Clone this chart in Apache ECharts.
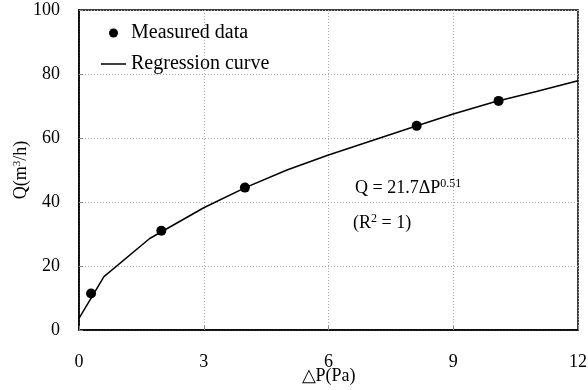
<!DOCTYPE html>
<html>
<head>
<meta charset="utf-8">
<script src="https://cdn.jsdelivr.net/npm/echarts@6/dist/echarts.min.js"></script>
<style>
  html, body { margin: 0; padding: 0; background: #fff; }
  #main { width: 588px; height: 390px; }
</style>
</head>
<body>
<div id="main"></div>
<script>
// 实测数据
var measuredX = [0.29, 1.98, 3.99, 8.12, 10.09];
var measuredQ = [11.4, 31.0, 44.5, 63.8, 71.6];
// 回归曲线
var curveX = [0, 0.6, 1.7, 3, 4, 5, 6, 7, 8, 9, 10, 11, 12];
var curveQ = [3.6, 16.7, 28.6, 38.2, 44.5, 50.0, 54.7, 59.0, 63.3, 67.5, 71.3, 74.5, 77.9];
var xTicks = [0, 3, 6, 9, 12];
var yTicks = [0, 20, 40, 60, 80, 100];

var font = 'Liberation Serif, Times New Roman, serif';
var chart = echarts.init(document.getElementById('main'));

var pts = measuredX.map(function (x, i) { return [x, measuredQ[i]]; });
var curve = curveX.map(function (x, i) { return [x, curveQ[i]]; });

// 图例中的线段图标 (上下两个极小点用于撑开包围盒)
var lineIcon = 'path://M0,0h0.01v0.01h-0.01z M0,3.8h25v1.5h-25z M0,8.99h0.01v0.01h-0.01z';

var option = {
    animation: false,
    backgroundColor: '#fff',
    grid: {
        left: 79, right: 10, top: 10, bottom: 60,
        outerBoundsMode: 'none',
        containLabel: false,
        show: true, borderColor: '#000', borderWidth: 1.5
    },
    legend: {
        orient: 'vertical',
        left: 96,
        top: 18,
        itemWidth: 25,
        itemHeight: 9,
        itemGap: 11,
        textStyle: {fontFamily: font, fontSize: 20, color: '#000', lineHeight: 20},
        data: [
            {name: 'Measured data', icon: 'circle', itemStyle: {color: '#000', opacity: 1}},
            {name: 'Regression curve', icon: lineIcon, itemStyle: {color: '#000', opacity: 1}}
        ]
    },
    xAxis: {
        type: 'value',
        min: xTicks[0], max: xTicks[xTicks.length - 1], interval: 3,
        name: '△P(Pa)',
        nameLocation: 'middle',
        nameGap: 37,
        nameMoveOverlap: false,
        nameTextStyle: {fontFamily: font, fontSize: 18, color: '#000'},
        axisLine: {lineStyle: {color: '#000', width: 1.5}},
        axisTick: {inside: true, length: 4, lineStyle: {color: '#888'}},
        axisLabel: {fontFamily: font, fontSize: 18, color: '#000', margin: 23},
        splitLine: {show: true, lineStyle: {color: '#aaa', type: [1, 2], width: 1}}
    },
    yAxis: {
        type: 'value',
        min: yTicks[0], max: yTicks[yTicks.length - 1], interval: 20,
        name: '{a|Q(m}{s|3}{a|/h)}',
        nameLocation: 'middle',
        nameGap: 48,
        nameMoveOverlap: false,
        nameRotate: 90,
        nameTextStyle: {
            rich: {
                a: {fontFamily: font, fontSize: 18, color: '#000'},
                s: {fontFamily: font, fontSize: 11, color: '#000', verticalAlign: 'top', padding: [0, 0, 8, 0]}
            }
        },
        axisLine: {lineStyle: {color: '#000', width: 1.5}},
        axisTick: {inside: true, length: 4, lineStyle: {color: '#888'}},
        axisLabel: {fontFamily: font, fontSize: 18, color: '#000', margin: 19},
        splitLine: {show: true, lineStyle: {color: '#aaa', type: [1, 2], width: 1}}
    },
    graphic: [
        {
            type: 'text', left: 355, top: 178,
            style: {
                rich: {
                    a: {fontFamily: font, fontSize: 18, fill: '#000'},
                    s: {fontFamily: font, fontSize: 12, fill: '#000', verticalAlign: 'top', padding: [0, 0, 8, 0]}
                },
                text: '{a|Q = 21.7ΔP}{s|0.51}'
            }
        },
        {
            type: 'text', left: 353, top: 213,
            style: {
                rich: {
                    a: {fontFamily: font, fontSize: 18, fill: '#000'},
                    s: {fontFamily: font, fontSize: 12, fill: '#000', verticalAlign: 'top', padding: [0, 0, 8, 0]}
                },
                text: '{a|(R}{s|2}{a| = 1)}'
            }
        }
    ],
    series: [
        {
            name: 'Regression curve',
            type: 'line',
            data: curve,
            symbol: 'none',
            lineStyle: {color: '#000', width: 1.5},
            itemStyle: {color: '#000'},
            z: 2
        },
        {
            name: 'Measured data',
            type: 'scatter',
            data: pts,
            symbol: 'circle',
            symbolSize: 10,
            itemStyle: {color: '#000', opacity: 1},
            z: 3
        }
    ]
};
chart.setOption(option);
</script>
</body>
</html>
